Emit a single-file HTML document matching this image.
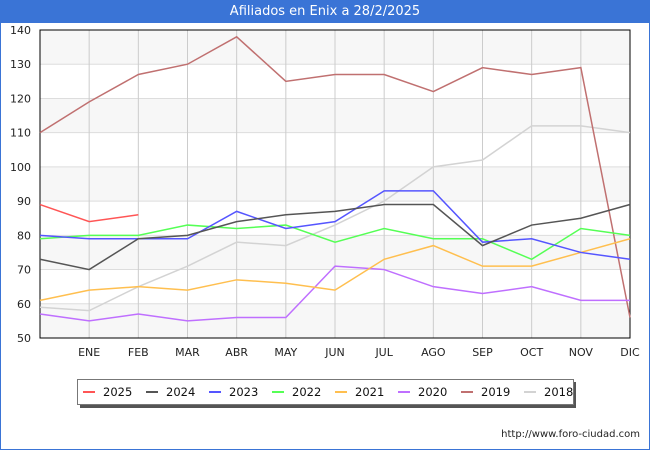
<!DOCTYPE html>
<html><head><meta charset="utf-8"><style>
body{margin:0;width:650px;height:450px;overflow:hidden;background:#fff;font-family:"DejaVu Sans","Liberation Sans",sans-serif}
#wrap{position:absolute;left:0;top:0;width:648px;height:448px;border:1px solid #3a74d6}
#title{position:absolute;left:0;top:0;width:650px;height:23px;background:#3a74d6;color:#fff;font-size:13px;text-align:center;line-height:23px}
svg{position:absolute;left:0;top:0}
</style></head><body>
<div id="wrap"></div>
<div id="title">Afiliados en Enix a 28/2/2025</div>
<svg id="c" width="650" height="450"></svg>
<script>
const months=["","ENE","FEB","MAR","ABR","MAY","JUN","JUL","AGO","SEP","OCT","NOV","DIC"];
const yTicks=[50,60,70,80,90,100,110,120,130,140];
const years=["2025","2024","2023","2022","2021","2020","2019","2018"];
const colors=["#ff5555","#555555","#5555ff","#55ff55","#ffbf4f","#bf6fff","#c07070","#d3d3d3"];
const s2025=[89,84,86];
const s2024=[73,70,79,80,84,86,87,89,89,77,83,85,89];
const s2023=[80,79,79,79,87,82,84,93,93,78,79,75,73];
const s2022=[79,80,80,83,82,83,78,82,79,79,73,82,80];
const s2021=[61,64,65,64,67,66,64,73,77,71,71,75,79];
const s2020=[57,55,57,55,56,56,71,70,65,63,65,61,61];
const s2019=[110,119,127,130,138,125,127,127,122,129,127,129,56];
const s2018=[59,58,65,71,78,77,83,90,100,102,112,112,110];
const series=[s2025,s2024,s2023,s2022,s2021,s2020,s2019,s2018];
const L=40,R=630,T=30,B=338;
const x=i=>L+i*(R-L)/12;
const y=v=>B-(v-50)*(B-T)/90;
const svg=document.getElementById('c');
const NS="http://www.w3.org/2000/svg";
function mk(t,a){const e=document.createElementNS(NS,t);for(const k in a)e.setAttribute(k,a[k]);svg.appendChild(e);return e;}
for(let i=0;i<yTicks.length-1;i++){
 const r=mk('rect',{x:L,y:y(yTicks[i+1]),width:R-L,height:y(yTicks[i])-y(yTicks[i+1]),fill:(i%2==0)?'#f7f7f7':'#ffffff'});
 
 
}
yTicks.forEach(v=>{
 const l=mk('line',{x1:L,x2:R,y1:y(v),y2:y(v),stroke:'#dddddd'});
 
 
 const t=mk('text',{x:L-9,y:y(v)+4,'text-anchor':'end','font-size':11,fill:'#222'});
 t.textContent=v;
 
 
});
months.forEach((m,i)=>{
 if(i>0){const l=mk('line',{x1:x(i),x2:x(i),y1:T,y2:B,stroke:'#cccccc'});
 
 
 const t=mk('text',{x:x(i),y:356,'text-anchor':'middle','font-size':11,fill:'#222'});
 t.textContent=m;
 
 }
});
const ax=mk('rect',{x:L,y:T,width:R-L,height:B-T,fill:'none',stroke:'#000','stroke-width':1});


for(let s=series.length-1;s>=0;s--){
 const p=mk('polyline',{points:series[s].map((v,i)=>x(i)+','+y(v)).join(' '),fill:'none',stroke:colors[s],'stroke-width':1.5});
 
 
}
const sh=mk('rect',{x:80,y:382,width:496,height:26,fill:'#555'});


const lb=mk('rect',{x:77.5,y:379.5,width:496,height:25,fill:'#fff',stroke:'#777'});


years.forEach((yr,i)=>{
 const bx=83+i*63;
 const m=mk('line',{x1:bx,x2:bx+12,y1:392,y2:392,stroke:colors[i],'stroke-width':2});
 
 
 const t=mk('text',{x:bx+20,y:396,'font-size':11.5,fill:'#111'});
 t.textContent=yr;
 
 
});
const u=mk('text',{x:640,y:437,'text-anchor':'end','font-size':10,fill:'#222'});
u.textContent='http://www.foro-ciudad.com';


</script>
</body></html>
